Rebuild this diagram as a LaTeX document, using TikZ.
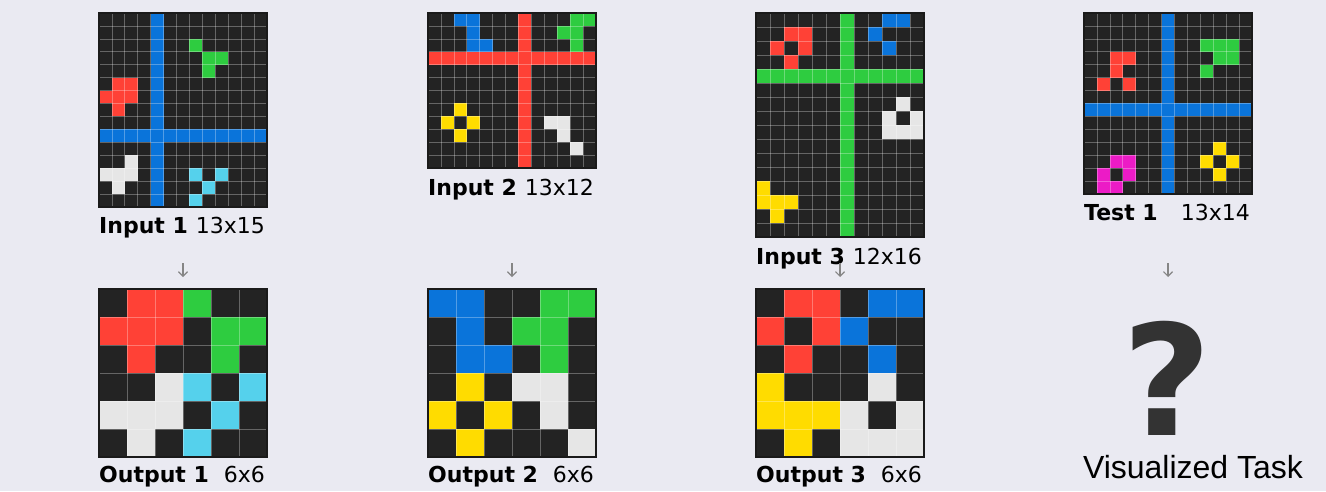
\documentclass[tikz,border=0pt]{standalone}
\usepackage{fontspec}
\setmainfont{DejaVu Sans}
\newfontfamily\taskfont{Liberation Sans}
\usetikzlibrary{arrows.meta}

\definecolor{bgcol}{HTML}{EAEAF2}
\definecolor{arcblack}{HTML}{232323}
\definecolor{framecol}{HTML}{1A1A1A}
\definecolor{arcblue}{HTML}{0A74DA}
\definecolor{arcred}{HTML}{FF4136}
\definecolor{arcgreen}{HTML}{2ECC40}
\definecolor{arcyellow}{HTML}{FFDC00}
\definecolor{arcwhite}{HTML}{E6E6E6}
\definecolor{arccyan}{HTML}{55D1EC}
\definecolor{arcpink}{HTML}{EC1BC6}
\definecolor{arrowgray}{HTML}{858585}
\definecolor{qgray}{HTML}{333333}

\tikzset{
  cellline/.style={draw=white, draw opacity=0.3, line width=0.7pt},
  boardframe/.style={draw=framecol, line width=2.6pt, inner sep=0pt, outer sep=0pt, anchor=north west},
  titletext/.style={font=\bfseries\fontsize{22}{22}\selectfont, anchor=base west, inner sep=0pt},
  sizetext/.style={font=\fontsize{22}{22}\selectfont, anchor=base east, inner sep=0pt},
  downarrow/.style={draw=arrowgray, line width=1.2pt, -{Straight Barb[length=4.5pt, width=9pt]}},
  qmark/.style={font=\bfseries\fontsize{154}{154}\selectfont, text=qgray, anchor=base, inner sep=0pt},
  tasktext/.style={font=\taskfont\fontsize{32}{32}\selectfont, anchor=base, inner sep=0pt}
}

% board: name, left, top, columns, rows, bars, cells (row/col/colour)
\newcommand{\arcboard}[7]{%
  \pgfmathsetmacro\cellsz{168/#4}%
  \pgfmathtruncatemacro\lastcol{#4-1}%
  \pgfmathtruncatemacro\lastrow{#5-1}%
  \begin{scope}[shift={(#2,#3)}, x=\cellsz pt, y=-\cellsz pt]
    \fill[arcblack] (0,0) rectangle (#4,#5);
    \foreach \ca/\ra/\cb/\rb/\k in {#6} \fill[\k] (\ca,\ra) rectangle (\cb,\rb);
    \foreach \r/\c/\k in {#7} \fill[\k] (\c,\r) rectangle ++(1,1);
    \foreach \i in {1,...,\lastcol} \draw[cellline] (\i,0) -- (\i,#5);
    \foreach \j in {1,...,\lastrow} \draw[cellline] (0,\j) -- (#4,\j);
  \end{scope}
  \node[boardframe, minimum width=168pt, minimum height=#5*\cellsz pt] (#1) at (#2,#3) {};
}

\begin{document}
\begin{tikzpicture}[x=1pt, y=-1pt]

% -----------------------
% Background
% -----------------------
\fill[bgcol] (0,0) rectangle (1326,491);
\useasboundingbox (0,0) rectangle (1326,491);

% -----------------------
% Input boards
% -----------------------
\arcboard{in1}{99}{13}{13}{15}{4/0/5/15/arcblue, 0/9/13/10/arcblue}{%
  2/7/arcgreen, 3/8/arcgreen, 3/9/arcgreen, 4/8/arcgreen,
  5/1/arcred, 5/2/arcred, 6/0/arcred, 6/1/arcred, 6/2/arcred, 7/1/arcred,
  11/2/arcwhite, 12/0/arcwhite, 12/1/arcwhite, 12/2/arcwhite, 13/1/arcwhite,
  12/7/arccyan, 12/9/arccyan, 13/8/arccyan, 14/7/arccyan}

\arcboard{in2}{428}{13}{13}{12}{7/0/8/12/arcred, 0/3/13/4/arcred}{%
  0/2/arcblue, 0/3/arcblue, 1/3/arcblue, 2/3/arcblue, 2/4/arcblue,
  0/11/arcgreen, 0/12/arcgreen, 1/10/arcgreen, 1/11/arcgreen, 2/11/arcgreen,
  7/2/arcyellow, 8/1/arcyellow, 8/3/arcyellow, 9/2/arcyellow,
  8/9/arcwhite, 8/10/arcwhite, 9/10/arcwhite, 10/11/arcwhite}

\arcboard{in3}{756}{13}{12}{16}{6/0/7/16/arcgreen, 0/4/12/5/arcgreen}{%
  1/2/arcred, 1/3/arcred, 2/1/arcred, 2/3/arcred, 3/2/arcred,
  0/9/arcblue, 0/10/arcblue, 1/8/arcblue, 2/9/arcblue,
  6/10/arcwhite, 7/9/arcwhite, 7/11/arcwhite, 8/9/arcwhite, 8/10/arcwhite, 8/11/arcwhite,
  12/0/arcyellow, 13/0/arcyellow, 13/1/arcyellow, 13/2/arcyellow, 14/1/arcyellow}

\arcboard{test1}{1084}{13}{13}{14}{6/0/7/14/arcblue, 0/7/13/8/arcblue}{%
  3/2/arcred, 3/3/arcred, 4/2/arcred, 5/1/arcred, 5/3/arcred,
  2/9/arcgreen, 2/10/arcgreen, 2/11/arcgreen, 3/10/arcgreen, 3/11/arcgreen, 4/9/arcgreen,
  11/2/arcpink, 11/3/arcpink, 12/1/arcpink, 12/3/arcpink, 13/1/arcpink, 13/2/arcpink,
  10/10/arcyellow, 11/9/arcyellow, 11/11/arcyellow, 12/10/arcyellow}

% -----------------------
% Output boards (6x6)
% -----------------------
\arcboard{out1}{99}{289}{6}{6}{0/0/0/0/arcblack}{%
  0/1/arcred, 0/2/arcred, 1/0/arcred, 1/1/arcred, 1/2/arcred, 2/1/arcred,
  0/3/arcgreen, 1/4/arcgreen, 1/5/arcgreen, 2/4/arcgreen,
  3/2/arcwhite, 4/0/arcwhite, 4/1/arcwhite, 4/2/arcwhite, 5/1/arcwhite,
  3/3/arccyan, 3/5/arccyan, 4/4/arccyan, 5/3/arccyan}

\arcboard{out2}{428}{289}{6}{6}{0/0/0/0/arcblack}{%
  0/0/arcblue, 0/1/arcblue, 1/1/arcblue, 2/1/arcblue, 2/2/arcblue,
  0/4/arcgreen, 0/5/arcgreen, 1/3/arcgreen, 1/4/arcgreen, 2/4/arcgreen,
  3/1/arcyellow, 4/0/arcyellow, 4/2/arcyellow, 5/1/arcyellow,
  3/3/arcwhite, 3/4/arcwhite, 4/4/arcwhite, 5/5/arcwhite}

\arcboard{out3}{756}{289}{6}{6}{0/0/0/0/arcblack}{%
  0/1/arcred, 0/2/arcred, 1/0/arcred, 1/2/arcred, 2/1/arcred,
  0/4/arcblue, 0/5/arcblue, 1/3/arcblue, 2/4/arcblue,
  3/4/arcwhite, 4/3/arcwhite, 4/5/arcwhite, 5/3/arcwhite, 5/4/arcwhite, 5/5/arcwhite,
  3/0/arcyellow, 4/0/arcyellow, 4/1/arcyellow, 4/2/arcyellow, 5/1/arcyellow}

% -----------------------
% Labels
% -----------------------
\foreach \b/\t/\s in {in1/Input 1/13x15, in2/Input 2/13x12, in3/Input 3/12x16, test1/Test 1/13x14}{
  \node[titletext] (\b title) at ([yshift=-27pt]\b.south west) {\t};
  \node[sizetext] (\b size) at ([xshift=-2pt, yshift=-27pt]\b.south east) {\s};
}
\foreach \b/\t in {out1/Output 1, out2/Output 2, out3/Output 3}{
  \node[titletext] (\b title) at ([yshift=-25pt]\b.south west) {\t};
  \node[sizetext] (\b size) at ([xshift=-2pt, yshift=-25pt]\b.south east) {6x6};
}

% -----------------------
% Small down arrows
% -----------------------
\coordinate (arrtop) at (0,263);
\coordinate (arrbot) at (0,277);
\foreach \b in {in1, in2, in3, test1}{
  \draw[downarrow] (\b.south |- arrtop) -- (\b.south |- arrbot);
}

% -----------------------
% Unknown answer
% -----------------------
\node[qmark] (answer) at (1167,435) {?};
\node[tasktext] (caption) at (1193,478) {Visualized Task};

\end{tikzpicture}
\end{document}
